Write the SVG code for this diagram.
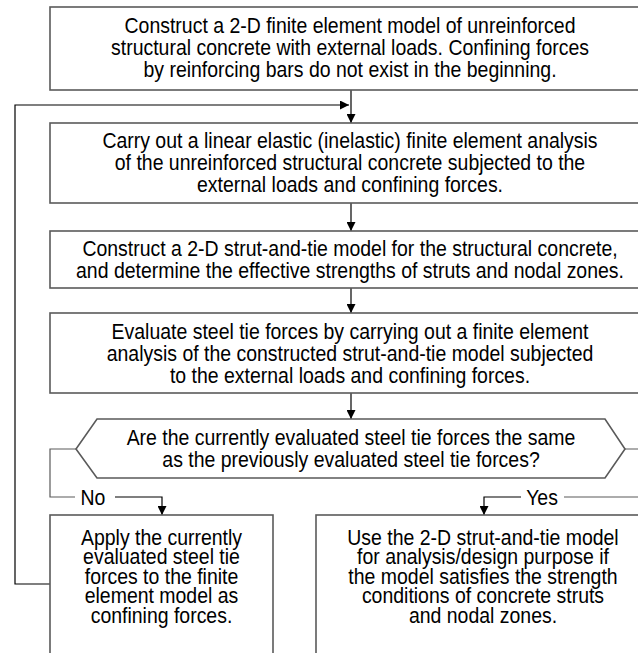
<svg xmlns="http://www.w3.org/2000/svg" width="638" height="653" viewBox="0 0 638 653">
<style>
.box{fill:#fff;stroke:#5a5a5a;stroke-width:1.6}
.t{font-family:"Liberation Sans",Arial,sans-serif;font-size:21.5px;fill:#000;text-anchor:middle}
.c{fill:none;stroke:#000;stroke-width:1.2}
.g{fill:none;stroke:#5a5a5a;stroke-width:1.2}
</style>
<defs>
<marker id="ah" viewBox="0 0 10 10" refX="10" refY="5" markerWidth="9" markerHeight="9" markerUnits="userSpaceOnUse" orient="auto">
<path d="M0,0 L10,5 L0,10 Z" fill="#000"/>
</marker>
</defs>
<rect width="638" height="653" fill="#fff"/>
<g id="connectors">
<line class="c" x1="351" y1="90" x2="351" y2="123" marker-end="url(#ah)"/>
<polyline class="c" points="50,584 15,584 15,105 349,105" marker-end="url(#ah)"/>
<line class="c" x1="351" y1="203" x2="351" y2="231" marker-end="url(#ah)"/>
<line class="c" x1="351" y1="288" x2="351" y2="313" marker-end="url(#ah)"/>
<line class="c" x1="351" y1="393" x2="351" y2="419" marker-end="url(#ah)"/>
<polyline class="g" points="76,449 50,449 50,497 75,497"/>
<polyline class="c" points="115,497 162,497 162,515" marker-end="url(#ah)"/>
<polyline class="g" points="625,449 660,449"/>
<polyline class="g" points="660,497 564,497"/>
<polyline class="c" points="521,497 484,497 484,515" marker-end="url(#ah)"/>
<g class="t" transform="translate(93,0) scale(0.905,1)"><text x="0" y="505">No</text></g>
<g class="t" transform="translate(542,0) scale(0.905,1)"><text x="0" y="505">Yes</text></g>
</g>
<g id="n1">
<rect class="box" x="50" y="7" width="600" height="83"/>
<g class="t" transform="translate(350,0) scale(0.905,1)">
<text x="0" y="33">Construct a 2-D finite element model of unreinforced</text>
<text x="0" y="55">structural concrete with external loads. Confining forces</text>
<text x="0" y="77">by reinforcing bars do not exist in the beginning.</text>
</g>
</g>
<g id="n2">
<rect class="box" x="50" y="123" width="600" height="80"/>
<g class="t" transform="translate(350,0) scale(0.905,1)">
<text x="0" y="148">Carry out a linear elastic (inelastic) finite element analysis</text>
<text x="0" y="170">of the unreinforced structural concrete subjected to the</text>
<text x="0" y="192">external loads and confining forces.</text>
</g>
</g>
<g id="n3">
<rect class="box" x="50" y="231" width="600" height="57"/>
<g class="t" transform="translate(350,0) scale(0.905,1)">
<text x="0" y="256">Construct a 2-D strut-and-tie model for the structural concrete,</text>
<text x="0" y="278">and determine the effective strengths of struts and nodal zones.</text>
</g>
</g>
<g id="n4">
<rect class="box" x="50" y="313" width="600" height="80"/>
<g class="t" transform="translate(350,0) scale(0.905,1)">
<text x="0" y="339">Evaluate steel tie forces by carrying out a finite element</text>
<text x="0" y="361">analysis of the constructed strut-and-tie model subjected</text>
<text x="0" y="383">to the external loads and confining forces.</text>
</g>
</g>
<g id="n5">
<polygon class="box" points="97,419 605,419 625,449 605,478 97,478 76,449"/>
<g class="t" transform="translate(351,0) scale(0.905,1)">
<text x="0" y="445">Are the currently evaluated steel tie forces the same</text>
<text x="0" y="467">as the previously evaluated steel tie forces?</text>
</g>
</g>
<g id="n6">
<rect class="box" x="50" y="515" width="223" height="150"/>
<g class="t" transform="translate(161.5,0) scale(0.905,1)">
<text x="0" y="545">Apply the currently</text>
<text x="0" y="564.5">evaluated steel tie</text>
<text x="0" y="584">forces to the finite</text>
<text x="0" y="603.5">element model as</text>
<text x="0" y="623">confining forces.</text>
</g>
</g>
<g id="n7">
<rect class="box" x="316" y="515" width="334" height="150"/>
<g class="t" transform="translate(483,0) scale(0.905,1)">
<text x="0" y="545">Use the 2-D strut-and-tie model</text>
<text x="0" y="564.5">for analysis/design purpose if</text>
<text x="0" y="584">the model satisfies the strength</text>
<text x="0" y="603.5">conditions of concrete struts</text>
<text x="0" y="623">and nodal zones.</text>
</g>
</g>
</svg>
